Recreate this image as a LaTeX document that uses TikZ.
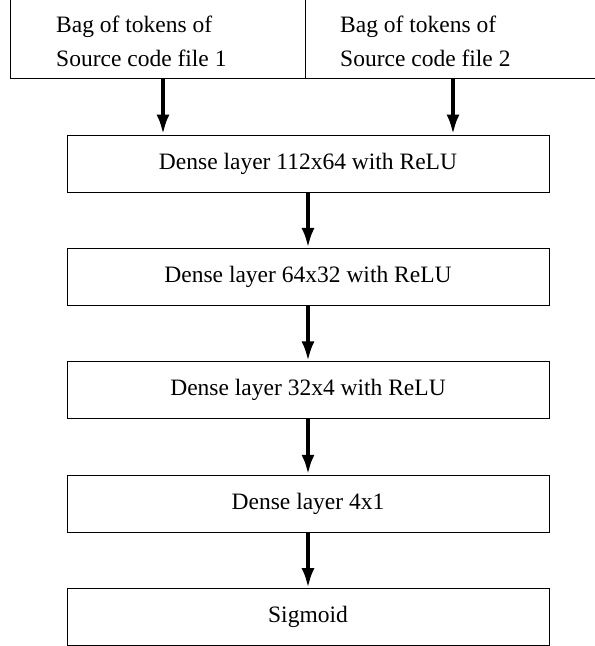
\documentclass[tikz,border=0pt]{standalone}
\usepackage{fontspec}
\setmainfont{Liberation Serif}
\usetikzlibrary{arrows.meta,positioning}

\begin{document}
\begin{tikzpicture}[x=1pt,y=1pt,node distance=55.6pt,
    layer/.style={draw,line width=0.8pt,minimum width=482pt,minimum height=57pt,inner sep=0pt},
    flow/.style={line width=4pt,-{Latex[length=20pt,width=13pt]}},
    txt/.style={inner sep=0pt,align=left,anchor=base west}]
  \useasboundingbox (0,0) rectangle (595,646);
  \clip (0,0) rectangle (595,646);
  \fontsize{23.5}{34}\selectfont
  % inputs
  \path
  node[txt] (src1) at (56,579) {Bag of tokens of\\Source code file 1}
  node[txt] (src2) at (340,579) {Bag of tokens of\\Source code file 2}
  ;
  \coordinate (tl) at (10,660);
  \coordinate (cut) at (10,568);
  \coordinate (tr) at (610,568);
  \coordinate (mid) at (305,568);
  \draw[line width=0.8pt] (tl) -- (cut) -- (tr);
  \draw[line width=0.8pt] (mid) -- (mid |- tl);
  \coordinate (a1) at (163,568);
  \coordinate (a2) at (453,568);
  % layers
  \path
  node[layer] (l1) at (308,482.5) {Dense layer 112x64 with ReLU}
  node[layer] (l2) [below=of l1] {Dense layer 64x32 with ReLU}
  node[layer] (l3) [below=of l2] {Dense layer 32x4 with ReLU}
  node[layer] (l4) [below=of l3] {Dense layer 4x1}
  node[layer] (l5) [below=of l4] {Sigmoid}
  ;
  \draw[flow] (a1) -- (a1 |- l1.north);
  \draw[flow] (a2) -- (a2 |- l1.north);
  \path[flow]
  (l1) edge (l2)
  (l2) edge (l3)
  (l3) edge (l4)
  (l4) edge (l5)
  ;
\end{tikzpicture}
\end{document}
